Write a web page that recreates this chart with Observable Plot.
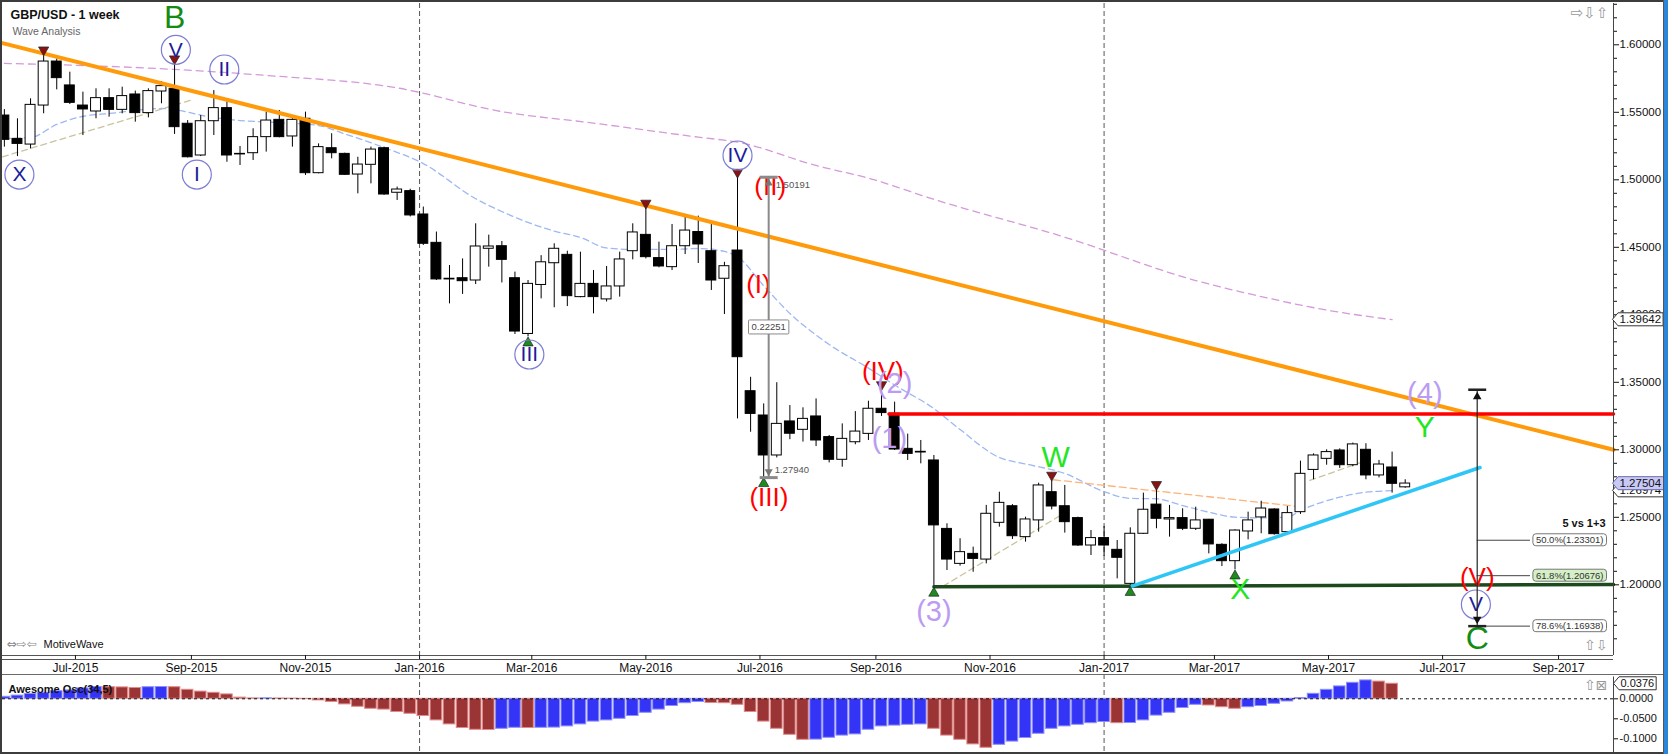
<!DOCTYPE html>
<html>
<head>
<meta charset="utf-8">
<script src="https://cdn.jsdelivr.net/npm/d3@7"></script>
<script src="https://cdn.jsdelivr.net/npm/@observablehq/plot@0.6"></script>
<style>
  html,body{margin:0;padding:0;background:#fff;}
  #wrap{position:relative;width:1668px;height:754px;overflow:hidden;background:#fff;}
  #main{position:absolute;left:0;top:0;}
  #osc{position:absolute;left:0;top:674px;}
  .edge{position:absolute;}
</style>
</head>
<body>
<div id="wrap">
  <div id="main"></div>
  <div id="osc"></div>
  <div class="edge" style="left:0;top:674px;width:1664px;height:1px;background:#6a6a6a"></div>
  <div class="edge" style="left:0;top:0;width:1668px;height:2px;background:#3c3c3c"></div>
  <div class="edge" style="left:0;top:0;width:2px;height:754px;background:#3c3c3c"></div>
  <div class="edge" style="left:0;top:752px;width:1668px;height:2px;background:#3c3c3c"></div>
  <div class="edge" style="left:1663px;top:0;width:1px;height:754px;background:#555"></div>
  <div class="edge" style="left:1664px;top:0;width:4px;height:754px;background:#2a86d8"></div>
</div>
<script>
// ---------------- DATA ----------------
const weekStart = "2015-05-24";
const opens = [
1.5476,1.5303,1.5261,1.5550,1.5876,1.5699,1.5550,1.5506,1.5605,1.5518,
1.5632,1.5494,1.5654,1.5674,1.5415,1.5180,1.5434,1.5531,1.5192,1.5197,
1.5316,1.5444,1.5321,1.5452,1.5049,1.5234,1.5192,1.5039,1.5111,1.5234,
1.4904,1.4916,1.4743,1.4533,1.4267,1.4271,1.4254,1.4489,1.4508,1.4271,
1.3858,1.4221,1.4382,1.4444,1.4131,1.4229,1.4114,1.4210,1.4471,1.4592,
1.4420,1.4353,1.4508,1.4613,1.4471,1.4267,1.4476,1.3434,1.3254,1.2958,
1.3210,1.3148,1.3247,1.3094,1.2926,1.3056,1.3118,1.3304,1.3267,1.3007,
1.2985,1.2921,1.2414,1.2155,1.2229,1.2187,1.2459,1.2582,1.2353,1.2477,
1.2686,1.2582,1.2494,1.2291,1.2346,1.2259,1.2007,1.2378,1.2594,1.2484,
1.2494,1.2415,1.2482,1.2296,1.2175,1.2395,1.2499,1.2558,1.2390,1.2538,
1.2851,1.2933,1.2995,1.2886,1.3000,1.2810,1.2869,1.2722];
const highs = [
1.5520,1.5452,1.5600,1.5925,1.5896,1.5797,1.5649,1.5674,1.5674,1.5686,
1.5657,1.5674,1.5728,1.5859,1.5439,1.5476,1.5661,1.5575,1.5247,1.5378,
1.5501,1.5513,1.5464,1.5501,1.5266,1.5341,1.5197,1.5167,1.5242,1.5242,
1.4946,1.4930,1.4798,1.4613,1.4365,1.4414,1.4674,1.4590,1.4543,1.4316,
1.4254,1.4438,1.4526,1.4471,1.4464,1.4328,1.4358,1.4464,1.4674,1.4790,
1.4538,1.4669,1.4743,1.4731,1.4674,1.4389,1.5019,1.3537,1.3340,1.3497,
1.3328,1.3311,1.3377,1.3106,1.3192,1.3283,1.3360,1.3445,1.3353,1.3116,
1.3069,1.2958,1.2452,1.2341,1.2279,1.2588,1.2686,1.2594,1.2501,1.2753,
1.2775,1.2736,1.2501,1.2402,1.2432,1.2328,1.2422,1.2679,1.2706,1.2588,
1.2563,1.2575,1.2484,1.2304,1.2407,1.2538,1.2619,1.2563,1.2580,1.2916,
1.2970,1.3000,1.3007,1.3050,1.3045,1.2921,1.2983,1.2778];
const lows = [
1.5242,1.5172,1.5229,1.5489,1.5666,1.5558,1.5328,1.5452,1.5464,1.5489,
1.5427,1.5459,1.5563,1.5336,1.5162,1.5172,1.5328,1.5130,1.5106,1.5143,
1.5205,1.5311,1.5242,1.5032,1.5044,1.5155,1.5032,1.4896,1.4970,1.4885,
1.4847,1.4725,1.4514,1.4254,1.4081,1.4151,1.4224,1.4353,1.4236,1.3854,
1.3836,1.4118,1.4052,1.4061,1.4126,1.4007,1.4095,1.4131,1.4407,1.4414,
1.4348,1.4328,1.4446,1.4380,1.4180,1.4002,1.3229,1.3130,1.2794,1.2940,
1.3075,1.3057,1.3024,1.2903,1.2871,1.3037,1.3069,1.3247,1.2995,1.2921,
1.2896,1.1982,1.2106,1.2138,1.2093,1.2155,1.2427,1.2336,1.2316,1.2390,
1.2555,1.2383,1.2284,1.2217,1.2210,1.2044,1.1988,1.2373,1.2415,1.2353,
1.2402,1.2402,1.2229,1.2135,1.2110,1.2333,1.2378,1.2368,1.2373,1.2521,
1.2778,1.2886,1.2862,1.2874,1.2778,1.2792,1.2679,1.2715];
const closes = [
1.5296,1.5266,1.5555,1.5876,1.5753,1.5570,1.5521,1.5605,1.5518,1.5620,
1.5494,1.5657,1.5694,1.5390,1.5167,1.5434,1.5531,1.5180,1.5188,1.5316,
1.5439,1.5316,1.5444,1.5049,1.5242,1.5197,1.5037,1.5113,1.5224,1.4891,
1.4928,1.4736,1.4526,1.4262,1.4262,1.4249,1.4506,1.4506,1.4407,1.3876,
1.4229,1.4389,1.4489,1.4138,1.4229,1.4131,1.4210,1.4410,1.4610,1.4427,
1.4358,1.4508,1.4624,1.4521,1.4254,1.4360,1.3686,1.3266,1.2958,1.3192,
1.3119,1.3229,1.3069,1.2926,1.3081,1.3135,1.3304,1.3272,1.3002,1.2970,
1.2980,1.2440,1.2187,1.2242,1.2192,1.2526,1.2607,1.2360,1.2484,1.2736,
1.2580,1.2464,1.2291,1.2346,1.2291,1.2200,1.2378,1.2556,1.2489,1.2494,
1.2415,1.2477,1.2299,1.2175,1.2402,1.2477,1.2565,1.2375,1.2531,1.2822,
1.2958,1.2983,1.2886,1.3040,1.2810,1.2891,1.2748,1.2750];
// Awesome Oscillator (34,5), one value per week
const aoValues = [
0.005,0.008,0.012,0.015,0.019,0.021,0.026,0.0295,0.029,0.0285,
0.027,0.029,0.0295,0.029,0.0225,0.018,0.015,0.011,0.003,0.001,
0.0012,0.0008,0.0005,-0.001,-0.004,-0.008,-0.014,-0.020,-0.025,-0.027,
-0.033,-0.0375,-0.043,-0.054,-0.064,-0.073,-0.0775,-0.078,-0.075,-0.0725,
-0.073,-0.0725,-0.072,-0.069,-0.064,-0.057,-0.054,-0.050,-0.043,-0.035,
-0.027,-0.018,-0.011,-0.008,-0.0105,-0.011,-0.015,-0.033,-0.057,-0.075,
-0.090,-0.1025,-0.102,-0.0975,-0.092,-0.089,-0.0775,-0.069,-0.067,-0.065,
-0.064,-0.075,-0.092,-0.1025,-0.114,-0.1225,-0.115,-0.107,-0.098,-0.0875,
-0.075,-0.069,-0.065,-0.061,-0.058,-0.061,-0.0605,-0.054,-0.042,-0.035,
-0.023,-0.015,-0.0167,-0.021,-0.025,-0.021,-0.018,-0.0125,-0.0067,0.002,
0.0125,0.0225,0.031,0.040,0.046,0.043,0.0376,null];
// moving averages: [week index, value]
const fastMA = [[0,1.5306],[2,1.5313],[4,1.5410],[6,1.5470],[8,1.5491],[12,1.5528],[16,1.5461],[18,1.5439],
 [21,1.5424],[24,1.5402],[26,1.5340],[29,1.5239],[32,1.5120],[36,1.4860],[38,1.4765],[40,1.4684],[42,1.4620],
 [44,1.4573],[46,1.4495],[48,1.4484],[51,1.4484],[53,1.4491],[55,1.4469],[56,1.4430],[58,1.4215],[60,1.4010],
 [62,1.3850],[63,1.3780],[66,1.3605],[68,1.3480],[71,1.3305],[73,1.3150],[76,1.2943],[78,1.2895],[81,1.2825],
 [84,1.2690],[86,1.2640],[88,1.2637],[90,1.2587],[92,1.2538],[94,1.2501],[96,1.2496],[98,1.2501],[99,1.2550],
 [102,1.2649],[104,1.2686],[106,1.2697]];
const slowMA = [[0,1.5862],[10,1.5832],[20,1.5773],[30,1.5681],[38,1.5505],[45,1.5420],[53,1.5316],[56,1.5279],
 [62,1.5106],[66,1.5012],[71,1.4855],[81,1.4575],[91,1.4254],[96,1.4135],[101,1.4035],[106,1.3964]];
const monthTicks = ["2015-07-01","2015-09-01","2015-11-01","2016-01-01","2016-03-01","2016-05-01","2016-07-01",
 "2016-09-01","2016-11-01","2017-01-01","2017-03-01","2017-05-01","2017-07-01","2017-09-01"];
const priceTicks = [1.20,1.25,1.30,1.35,1.40,1.45,1.50,1.55,1.60];
const aoTicks = [0,-0.05,-0.10];
const yearBreaks = ["2016-01-01","2017-01-01"];
const resistanceLine = [["2015-05-23",1.6012],["2017-09-30T09:00:00Z",1.3000]];
const wave4Line = [["2016-09-08",1.3265],["2017-09-30T09:00:00Z",1.3265]];
const supportLine = [["2016-10-02",1.1985],["2017-09-30T09:00:00Z",1.2002]];
const channelLine = [["2017-01-16",1.1990],["2017-07-21",1.2869]];
const swingLines = [[["2015-05-23",1.5170],["2015-09-02",1.5595]],
                    [["2016-10-07",1.1990],["2016-12-13",1.2550]],
                    [["2017-04-21",1.2773],["2017-05-23",1.2929]]];
const wxLine = [["2016-12-05",1.2778],["2017-04-18",1.2575]];
const highMarks = [3,13,49,56,67,80,88];
const lowMarks = [40,58,71,86,94];
const brexitMeasure = {date:"2016-07-05T16:00:00Z", from:1.50191, to:1.27940};
const targetMeasure = {date:"2017-07-19T12:00:00Z", from:1.3445, to:1.16938};
const fibLevels = [{pct:"50.0", price:1.23301},{pct:"61.8", price:1.20676},{pct:"78.6", price:1.16938}];
const fibTitle = {text:"5 vs 1+3", price:1.2455};
const priceTags = [{value:1.39642, kind:"ma"},{value:1.26974, kind:"ma"},{value:1.27504, kind:"last"}];
const waveLabels = [
 {text:"B", kind:"cycle", week:13.0, price:1.6202},
 {text:"C", kind:"cycle", week:112.5, price:1.1602},
 {text:"X", kind:"circle", week:1.15, price:1.5039},
 {text:"V", kind:"circle", week:13.1, price:1.5963},
 {text:"I", kind:"circle", week:14.7, price:1.5039},
 {text:"II", kind:"circle", week:16.8, price:1.5817},
 {text:"III", kind:"circle", week:40.1, price:1.3706},
 {text:"IV", kind:"circle", week:56.0, price:1.5180},
 {text:"V", kind:"circle", week:112.4, price:1.1854},
 {text:"(I)", kind:"primary", week:57.6, price:1.4224},
 {text:"(II)", kind:"primary", week:58.5, price:1.4950},
 {text:"(III)", kind:"primary", week:58.4, price:1.2647},
 {text:"(IV)", kind:"primary", week:67.1, price:1.3580},
 {text:"(V)", kind:"primary", week:112.5, price:1.2054},
 {text:"(1)", kind:"intermediate", week:67.6, price:1.3084},
 {text:"(2)", kind:"intermediate", week:68.0, price:1.3491},
 {text:"(3)", kind:"intermediate", week:71.0, price:1.1802},
 {text:"(4)", kind:"intermediate", week:108.5, price:1.3417},
 {text:"W", kind:"minor", week:80.3, price:1.2943},
 {text:"X", kind:"minor", week:94.4, price:1.1965},
 {text:"Y", kind:"minor", week:108.5, price:1.3165}];

// ---------------- PREP ----------------
const FONT = "'Liberation Sans', Arial, Helvetica, sans-serif";
const DAY = 864e5;
const t0 = Date.parse(weekStart + "T00:00:00Z");
const weekDate = i => new Date(t0 + i * 7 * DAY);
const shift = (d, days) => new Date(+d + days * DAY);
const xDomain = [new Date("2015-05-23T00:00:00Z"), new Date("2017-09-30T09:00:00Z")];
const toPts = (arr, id = 0) => arr.map(([d, p]) => ({date: new Date(d), price: p, id}));

const candles = opens.map((o, i) => ({i, date: weekDate(i), open: o, high: highs[i], low: lows[i], close: closes[i]}));
const aoData = [];
aoValues.forEach((v, i) => {
  if (v == null) return;
  const prev = aoData.length ? aoData[aoData.length - 1].value : -Infinity;
  aoData.push({date: weekDate(i), value: v, up: v >= prev});
});
const fastPts = fastMA.map(([w, v]) => ({date: weekDate(w), price: v}));
const slowPts = slowMA.map(([w, v]) => ({date: weekDate(w), price: v}));
const swingPts = swingLines.flatMap((seg, k) => toPts(seg, k));
const labelsOf = k => waveLabels.filter(d => d.kind === k).map(d => ({...d, date: weekDate(d.week)}));
const bm = {...brexitMeasure, date: new Date(brexitMeasure.date)};
const tm = {...targetMeasure, date: new Date(targetMeasure.date)};
const fibEnd = new Date("2017-08-17T00:00:00Z");
const fibData = fibLevels.map(f => ({...f, label: `${f.pct}%(${f.price.toFixed(5)})`}));

const triSide = size => Math.sqrt(size / 0.433);
const triUp = {draw(c, size){ const s = triSide(size), h = s * 0.866; c.moveTo(0, -2*h/3); c.lineTo(s/2, h/3); c.lineTo(-s/2, h/3); c.closePath(); }};
const triDown = {draw(c, size){ const s = triSide(size), h = s * 0.866; c.moveTo(0, 2*h/3); c.lineTo(s/2, -h/3); c.lineTo(-s/2, -h/3); c.closePath(); }};
const capSym = {draw(c){ c.moveTo(-9, 0); c.lineTo(9, 0); }};

const labelStyle = {
  cycle: {fill: "#138c13", fontSize: 32},
  primary: {fill: "#ff0000", fontSize: 26},
  intermediate: {fill: "#bb9cf2", fontSize: 29},
  minor: {fill: "#22e622", fontSize: 30},
  circle: {fill: "#1c1c9c", fontSize: 21}
};
const labelMark = k => Plot.text(labelsOf(k), {x: "date", y: "price", text: "text", textAnchor: "middle", lineAnchor: "middle",
  fill: labelStyle[k].fill, fontSize: labelStyle[k].fontSize, fontFamily: FONT});

const minorTicks = d3.range(115, 164).map(k => k / 100).filter(v => Math.round(v * 100) % 5 !== 0);

// ---------------- MAIN CHART ----------------
const main = Plot.plot({
  width: 1668, height: 674,
  marginTop: 3, marginBottom: 19, marginLeft: 2, marginRight: 55,
  style: {fontFamily: FONT, fontSize: "12px", color: "#111", background: "transparent", overflow: "visible"},
  x: {type: "utc", domain: xDomain, label: null},
  y: {domain: [1.14763, 1.63059], label: null},
  marks: [
    Plot.ruleX(yearBreaks.map(d => new Date(d)), {stroke: "#555", strokeDasharray: "5,3", strokeWidth: 1}),
    Plot.line(slowPts, {x: "date", y: "price", stroke: "#d49ad9", strokeWidth: 1.3, strokeDasharray: "7,5", curve: "monotone-x"}),
    Plot.line(fastPts, {x: "date", y: "price", stroke: "#9db8f2", strokeWidth: 1.3, strokeDasharray: "6,4", curve: "monotone-x"}),
    Plot.line(swingPts, {x: "date", y: "price", z: "id", stroke: "#c9c49a", strokeWidth: 1.3, strokeDasharray: "6,4"}),
    Plot.line(toPts(wxLine), {x: "date", y: "price", stroke: "#ffb27a", strokeWidth: 1.3, strokeDasharray: "7,4"}),
    // candles
    Plot.ruleX(candles, {x: "date", y1: "low", y2: "high", stroke: "#000", strokeWidth: 1}),
    Plot.rect(candles, {x1: d => shift(d.date, -2.65), x2: d => shift(d.date, 2.65), y1: "open", y2: "close",
      fill: d => d.close > d.open ? "#ffffff" : "#000000", stroke: "#000", strokeWidth: 1}),
    // trend lines
    Plot.line(toPts(resistanceLine), {x: "date", y: "price", stroke: "#ff9a0a", strokeWidth: 4}),
    Plot.line(toPts(wave4Line), {x: "date", y: "price", stroke: "#ff0000", strokeWidth: 3.5}),
    Plot.line(toPts(supportLine), {x: "date", y: "price", stroke: "#1c4a1c", strokeWidth: 3.5}),
    Plot.line(toPts(channelLine), {x: "date", y: "price", stroke: "#2ec6f6", strokeWidth: 3.5}),
    // swing markers
    Plot.dot(highMarks.map(i => candles[i]), {x: "date", y: "high", symbol: triDown, r: 3.8, dy: -5, fill: "#8b1212", stroke: "#222", strokeWidth: 0.7}),
    Plot.dot(lowMarks.map(i => candles[i]), {x: "date", y: "low", symbol: triUp, r: 3.8, dy: 6, fill: "#1f8a1f", stroke: "#222", strokeWidth: 0.7}),
    // wave labels
    Plot.dot(labelsOf("circle"), {x: "date", y: "price", r: 14.5, stroke: "#7d7dd6", strokeWidth: 1.2, fill: "none"}),
    labelMark("circle"), labelMark("primary"), labelMark("intermediate"), labelMark("minor"), labelMark("cycle"),
    // Brexit range measure
    Plot.ruleX([bm], {x: "date", y1: "from", y2: "to", stroke: "#8a8a8a", strokeWidth: 2}),
    Plot.dot([bm], {x: "date", y: "from", symbol: capSym, r: 3, stroke: "#8a8a8a", strokeWidth: 3}),
    Plot.dot([bm], {x: "date", y: "to", symbol: capSym, r: 3, stroke: "#8a8a8a", strokeWidth: 3}),
    Plot.dot([bm], {x: "date", y: "from", symbol: triUp, r: 3, dy: 6, fill: "#777"}),
    Plot.dot([bm], {x: "date", y: "to", symbol: triDown, r: 3, dy: -6, fill: "#777"}),
    Plot.text([bm], {x: "date", y: "from", text: d => d.from.toFixed(5), dx: 7, dy: 8, textAnchor: "start", fontSize: 9.5, fill: "#555"}),
    Plot.text([bm], {x: "date", y: "to", text: d => d.to.toFixed(5), dx: 6, dy: -8, textAnchor: "start", fontSize: 9.5, fill: "#555"}),
    Plot.text([bm], {x: "date", y: d => (d.from + d.to) / 2, text: d => (d.from - d.to).toFixed(5), fontSize: 9.5, fill: "#444"}),
    // target measure + fib levels
    Plot.ruleY(fibData, {y: "price", x1: () => tm.date, x2: () => fibEnd, stroke: "#444", strokeWidth: 1}),
    Plot.ruleX([tm], {x: "date", y1: "from", y2: "to", stroke: "#222", strokeWidth: 1.2}),
    Plot.dot([tm], {x: "date", y: "from", symbol: capSym, r: 3, stroke: "#222", strokeWidth: 2.5}),
    Plot.dot([tm], {x: "date", y: "to", symbol: capSym, r: 3, stroke: "#222", strokeWidth: 2.5}),
    Plot.dot([tm], {x: "date", y: "from", symbol: triUp, r: 3.2, dy: 7, fill: "#111"}),
    Plot.dot([tm], {x: "date", y: "to", symbol: triDown, r: 3.2, dy: -7, fill: "#111"}),
    Plot.text(fibData, {y: "price", text: "label", frameAnchor: "right", textAnchor: "end", dx: -10, fontSize: 9.5, fill: "#333"}),
    Plot.text([fibTitle], {y: "price", text: "text", frameAnchor: "right", textAnchor: "end", dx: -8, fontSize: 11, fontWeight: "bold", fill: "#111"}),
    // axes and frame
    Plot.ruleY([1.14763], {stroke: "#555"}),
    Plot.ruleY([1.14763], {stroke: "#555", dy: 4}),
    Plot.ruleX([xDomain[1]], {stroke: "#444"}),
    Plot.axisX({anchor: "bottom", ticks: monthTicks.map(d => new Date(d)), tickFormat: d3.utcFormat("%b-%Y"), tickSize: 4, tickPadding: 4, fontSize: 12, label: null}),
    Plot.axisY({anchor: "right", ticks: minorTicks, tickFormat: () => "", tickSize: 3, label: null}),
    Plot.axisY({anchor: "right", ticks: priceTicks, tickFormat: d => d.toFixed(5), tickSize: 5, tickPadding: 1, fontSize: 11.5, label: null}),
    // price tags
    Plot.text(priceTags.filter(d => d.kind === "ma"), {y: "value", text: d => d.value.toFixed(5), frameAnchor: "right", textAnchor: "start", dx: 6, fontSize: 11.5, fill: "#111"}),
    Plot.text(priceTags.filter(d => d.kind === "last"), {y: "value", text: d => d.value.toFixed(5), frameAnchor: "right", textAnchor: "start", dx: 6, fontSize: 11.5, fill: "#111"}),
    // header / footer text
    Plot.text(["GBP/USD - 1 week"], {frameAnchor: "top-left", dx: 8, dy: 11.6, textAnchor: "start", lineAnchor: "middle", fontSize: 12.5, fontWeight: "bold", fill: "#111"}),
    Plot.text(["Wave Analysis"], {frameAnchor: "top-left", dx: 10, dy: 28, textAnchor: "start", lineAnchor: "middle", fontSize: 10.5, fill: "#666"}),
    Plot.text(["MotiveWave"], {frameAnchor: "bottom-left", dx: 41, dy: -11, textAnchor: "start", lineAnchor: "middle", fontSize: 11, fill: "#111"}),
    Plot.text(["\u21D4\u21E8\u21E6"], {frameAnchor: "bottom-left", dx: 4, dy: -11, textAnchor: "start", lineAnchor: "middle", fontSize: 12, fill: "#888", fontFamily: "DejaVu Sans"}),
    Plot.text(["\u21E8\u21E9\u21E7"], {frameAnchor: "top-right", dx: -5, dy: 10, textAnchor: "end", lineAnchor: "middle", fontSize: 15, fill: "#999", fontFamily: "DejaVu Sans"}),
    Plot.text(["\u21E7\u21E9"], {frameAnchor: "bottom-right", dx: -6, dy: -10, textAnchor: "end", lineAnchor: "middle", fontSize: 14, fill: "#999", fontFamily: "DejaVu Sans"})
  ]
});
document.getElementById("main").appendChild(main);

// ---------------- OSCILLATOR ----------------
const osc = Plot.plot({
  width: 1668, height: 80,
  marginTop: 0, marginBottom: 2, marginLeft: 2, marginRight: 55,
  style: {fontFamily: FONT, fontSize: "11px", color: "#111", background: "transparent", overflow: "visible"},
  x: {type: "utc", domain: xDomain, label: null, axis: null},
  y: {domain: [-0.13425, 0.06075], label: null},
  marks: [
    Plot.ruleX(yearBreaks.map(d => new Date(d)), {stroke: "#555", strokeDasharray: "5,3", strokeWidth: 1}),
    Plot.rect(aoData, {x1: d => shift(d.date, -3.1), x2: d => shift(d.date, 3.1), y1: 0, y2: "value",
      fill: d => d.up ? "#3434f6" : "#9b3434", stroke: d => d.up ? "#8f8ff8" : "#e28a8a", strokeWidth: 1}),
    Plot.ruleY([0], {stroke: "#111", strokeDasharray: "3,3"}),
    Plot.ruleX([xDomain[1]], {stroke: "#444", y1: -0.13425, y2: 0.0545}),
    Plot.axisY({anchor: "right", ticks: aoTicks, tickFormat: d => d.toFixed(4), tickSize: 4, tickPadding: 2, fontSize: 11, label: null}),
    Plot.text([aoData[aoData.length - 1]], {y: "value", text: d => d.value.toFixed(4), frameAnchor: "right", textAnchor: "start", dx: 7, fontSize: 11, fill: "#111"}),
    Plot.text(["Awesome Osc(34,5)"], {frameAnchor: "top-left", dx: 6, dy: 15, textAnchor: "start", lineAnchor: "middle", fontSize: 11, fontWeight: "bold", fill: "#111"}),
    Plot.text(["\u21E7\u22A0"], {frameAnchor: "top-right", dx: -6, dy: 11, textAnchor: "end", lineAnchor: "middle", fontSize: 14, fill: "#999", fontFamily: "DejaVu Sans"})
  ]
});
document.getElementById("osc").appendChild(osc);

// ---------------- LABEL BOXES ----------------
function decorate(svg, specs) {
  const NS = "http://www.w3.org/2000/svg";
  for (const t of Array.from(svg.querySelectorAll("text"))) {
    const s = specs[t.textContent];
    if (!s) continue;
    const b = t.getBBox();
    const padL = s.padL ?? 2, padR = s.padR ?? 2, padY = s.padY ?? 0.5;
    const x0 = b.x - padL, x1 = b.x + b.width + padR, y0 = b.y - padY, y1 = b.y + b.height + padY;
    let d;
    if (s.tip) {
      const cy = (y0 + y1) / 2;
      d = `M${x0 - s.tip},${cy}L${x0},${y0}H${x1}V${y1}H${x0}Z`;
    } else {
      const r = s.r ?? 2;
      d = `M${x0+r},${y0}H${x1-r}Q${x1},${y0} ${x1},${y0+r}V${y1-r}Q${x1},${y1} ${x1-r},${y1}H${x0+r}Q${x0},${y1} ${x0},${y1-r}V${y0+r}Q${x0},${y0} ${x0+r},${y0}Z`;
    }
    const p = document.createElementNS(NS, "path");
    p.setAttribute("d", d);
    p.setAttribute("fill", s.fill);
    p.setAttribute("stroke", s.stroke);
    p.setAttribute("stroke-width", s.sw ?? 1);
    const tr = t.getAttribute("transform");
    if (tr) p.setAttribute("transform", tr);
    t.parentNode.insertBefore(p, t);
  }
}
const mainSpecs = {};
priceTags.forEach(d => { mainSpecs[d.value.toFixed(5)] = d.kind === "last"
  ? {fill: "#c9c9f6", stroke: "#6a6ab0", tip: 5.5, padL: 1.5, padR: 2}
  : {fill: "#ffffff", stroke: "#333", tip: 5.5, padL: 1.5, padR: 2}; });
fibData.forEach(f => { mainSpecs[f.label] = {fill: f.pct === "61.8" ? "#d5efc6" : "#ffffff", stroke: "#777", r: 3, padL: 3, padR: 3}; });
mainSpecs[(bm.from - bm.to).toFixed(5)] = {fill: "#ffffff", stroke: "#8a8a8a", r: 1, padL: 3, padR: 3, padY: 1.5};
decorate(main, mainSpecs);
const oscSpecs = {};
oscSpecs[aoData[aoData.length - 1].value.toFixed(4)] = {fill: "#ffffff", stroke: "#333", tip: 5.5, padL: 1.5, padR: 2};
decorate(osc, oscSpecs);
</script>
</body>
</html>
